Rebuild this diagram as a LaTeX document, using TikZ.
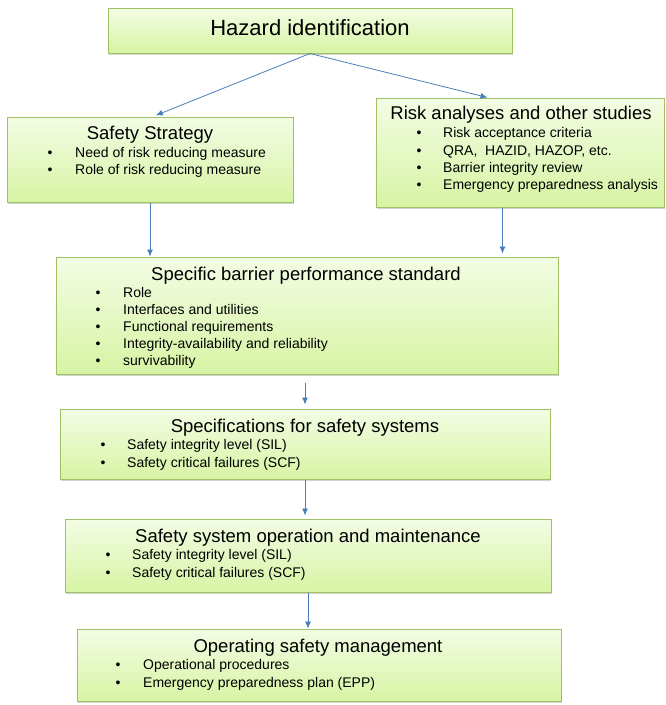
\documentclass[tikz,border=0pt]{standalone}
\usepackage{fontspec}
\setmainfont{Liberation Sans}
\usetikzlibrary{arrows.meta,shadows}
\definecolor{BoxTop}{HTML}{F3FCE4}
\definecolor{BoxBot}{HTML}{D7F4A4}
\definecolor{BoxLine}{HTML}{9FC063}
\definecolor{ArrowClr}{HTML}{4A7EBB}

\tikzset{
  stdbox/.style={rectangle,draw=BoxLine,line width=1pt,top color=BoxTop,bottom color=BoxBot,
    drop shadow={shadow xshift=1.2pt,shadow yshift=-1.5pt,opacity=0.35},inner sep=0pt},
  headtext/.style={anchor=base,inner sep=0pt,font=\fontsize{18.5}{20}\selectfont},
  itemtext/.style={anchor=base west,inner sep=0pt,font=\fontsize{14}{16}\selectfont},
  dot/.style={anchor=base,inner sep=0pt,font=\fontsize{14}{16}\selectfont},
  flowarrow/.style={draw=ArrowClr,line width=0.8pt,-{Latex[length=7pt,width=6pt]}}
}

\begin{document}
\begin{tikzpicture}[x=1pt,y=-1pt]
\useasboundingbox (0,0) rectangle (666,705);

% boxes
\node[stdbox,minimum width=404pt,minimum height=45pt] (haz) at (310,30.5) {};
\node[stdbox,minimum width=286pt,minimum height=85pt] (strat) at (150,159.5) {};
\node[stdbox,minimum width=288pt,minimum height=109pt] (risk) at (520,152.5) {};
\node[stdbox,minimum width=502pt,minimum height=117pt] (spec) at (307,315.5) {};
\node[stdbox,minimum width=490pt,minimum height=70pt] (specs) at (305,444) {};
\node[stdbox,minimum width=486pt,minimum height=73pt] (op) at (308,555.5) {};
\node[stdbox,minimum width=484pt,minimum height=72pt] (oper) at (319,665) {};

% hazard
\node[headtext,font=\fontsize{22}{24}\selectfont] (hazt) at (310,35) {Hazard identification};

% safety strategy
\node[headtext] (stratt) at (150,139) {Safety Strategy};
\node[dot] (strat1b) at (50,157) {\textbullet};
\node[itemtext] (strat1) at (75,157) {Need of risk reducing measure};
\node[dot] (strat2b) at (50,174) {\textbullet};
\node[itemtext] (strat2) at (75,174) {Role of risk reducing measure};

% risk analyses
\node[headtext] (riskt) at (521,119) {Risk analyses and other studies};
\node[dot] (risk1b) at (419,137) {\textbullet};
\node[itemtext] (risk1) at (443,137) {Risk acceptance criteria};
\node[dot] (risk2b) at (419,155) {\textbullet};
\node[itemtext] (risk2) at (443,155) {QRA,\ \ HAZID, HAZOP, etc.};
\node[dot] (risk3b) at (419,172) {\textbullet};
\node[itemtext] (risk3) at (443,172) {Barrier integrity review};
\node[dot] (risk4b) at (419,189) {\textbullet};
\node[itemtext] (risk4) at (443,189) {Emergency preparedness analysis};

% barrier performance standard
\node[headtext] (spect) at (306,280) {Specific barrier performance standard};
\node[dot] (spec1b) at (98,297) {\textbullet};
\node[itemtext] (spec1) at (123,297) {Role};
\node[dot] (spec2b) at (98,314) {\textbullet};
\node[itemtext] (spec2) at (123,314) {Interfaces and utilities};
\node[dot] (spec3b) at (98,331) {\textbullet};
\node[itemtext] (spec3) at (123,331) {Functional requirements};
\node[dot] (spec4b) at (98,348) {\textbullet};
\node[itemtext] (spec4) at (123,348) {Integrity-availability and reliability};
\node[dot] (spec5b) at (98,365) {\textbullet};
\node[itemtext] (spec5) at (123,365) {survivability};

% specifications
\node[headtext] (specst) at (305,432) {Specifications for safety systems};
\node[dot] (specs1b) at (103,449) {\textbullet};
\node[itemtext] (specs1) at (127,449) {Safety integrity level (SIL)};
\node[dot] (specs2b) at (103,467) {\textbullet};
\node[itemtext] (specs2) at (127,467) {Safety critical failures (SCF)};

% operation and maintenance
\node[headtext] (opt) at (308,542) {Safety system operation and maintenance};
\node[dot] (op1b) at (108,559) {\textbullet};
\node[itemtext] (op1) at (132,559) {Safety integrity level (SIL)};
\node[dot] (op2b) at (108,577) {\textbullet};
\node[itemtext] (op2) at (132,577) {Safety critical failures (SCF)};

% operating safety management
\node[headtext] (opert) at (318,652) {Operating safety management};
\node[dot] (oper1b) at (118,669) {\textbullet};
\node[itemtext] (oper1) at (143,669) {Operational procedures};
\node[dot] (oper2b) at (118,687) {\textbullet};
\node[itemtext] (oper2) at (143,687) {Emergency preparedness plan (EPP)};

% arrows
\draw[flowarrow,shorten >=3pt] (haz.south) -- ([xshift=3pt]strat.north);
\draw[flowarrow] (haz.south) -- ([xshift=112pt]risk.north west);
\draw[flowarrow] (strat.south) -- (strat.south |- spec.north);
\coordinate (riskout) at ([xshift=127pt]risk.south west);
\draw[flowarrow,shorten >=3pt] (riskout) -- (riskout |- spec.north);
\draw[flowarrow,shorten <=8pt,shorten >=4pt] (spec.south -| specs.north) -- (specs.north);
\draw[flowarrow,shorten >=3pt] (specs.south) -- (specs.south |- op.north);
\draw[flowarrow] (op.south) -- (op.south |- oper.north);

\end{tikzpicture}
\end{document}
